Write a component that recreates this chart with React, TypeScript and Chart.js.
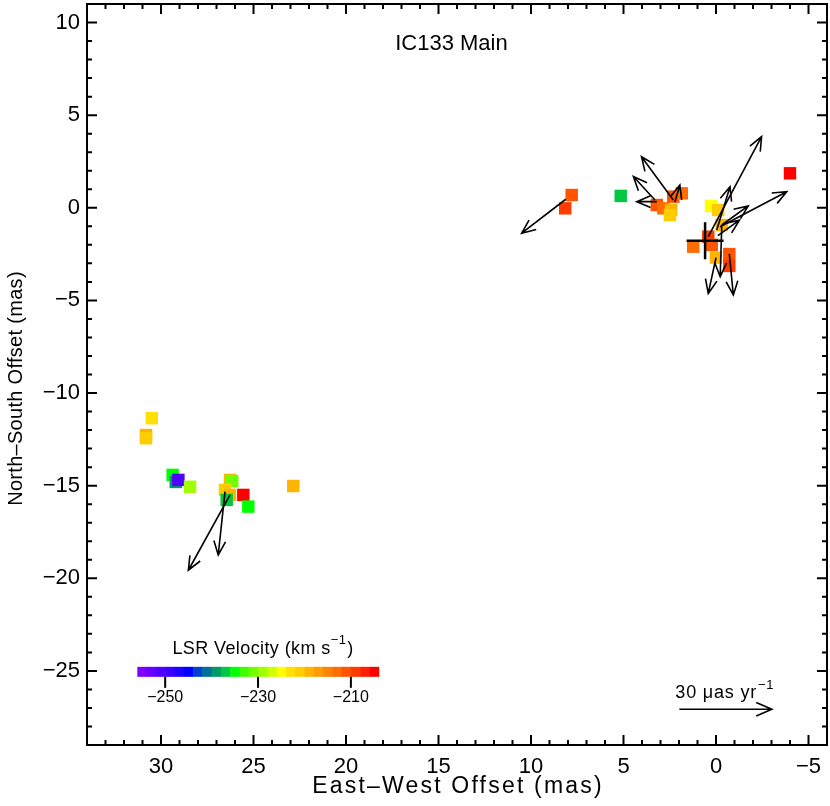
import React, { useEffect, useRef } from "react";
import { Chart, registerables } from "chart.js";
Chart.register(...registerables);

// ---- Data ----
const spotX = [7.8, 8.15, 5.15, 2.31, 1.85, 3.2, 2.85, 2.43, 2.49, 0.27, -0.12, -0.31, 0.42, 0.23, 1.23, 0.0, -0.72, -0.72, -4.0,
  30.5, 30.81, 30.81, 29.37, 29.2, 29.06, 28.43, 26.27, 26.15, 26.54, 26.27, 26.45, 25.55, 25.28, 22.85];
const spotY = [0.69, -0.03, 0.64, 0.6, 0.78, 0.15, -0.03, -0.12, -0.39, 0.1, -0.12, -0.93, -1.56, -2.0, -2.1, -2.69, -2.5, -3.14, 1.86,
  -11.36, -12.27, -12.44, -14.42, -14.8, -14.69, -15.06, -14.69, -14.75, -15.23, -15.5, -15.77, -15.5, -16.13, -15.02];
const spotV = [-211, -209, -237, -211, -213, -211, -213, -219, -221, -225, -221, -219, -209, -211, -213, -219, -211, -209, -205,
  -223, -219, -221, -235, -239, -251, -229, -219, -231, -221, -219, -237, -205, -235, -219];

// proper motions: start position (mas) and velocity (μas/yr, +x = east)
const pmX = [8.12, 2.31, 3.3, 3.2, 2.22, 0.42, -0.04, -0.22, -0.31, -0.1, 0.0, -0.72, -0.31, 26.27, 26.54];
const pmY = [0.46, 0.42, 0.42, 0.33, 0.31, -1.56, -1.2, -1.02, -0.93, -1.5, -2.69, -2.49, -1.02, -15.5, -15.32];
const pmVx = [14.3, 10.3, 7.0, 6.5, -1.6, -17.3, -4.3, -21.6, -8.6, -7.0, 2.5, -1.3, 0.5, 13.5, 2.2];
const pmVy = [-11.0, 14.0, 7.6, 0.0, 5.5, 32.4, 14.0, 11.3, 6.2, 5.0, -11.6, -13.3, -16.2, -24.4, -20.5];
const masPerMuas = 5 / 30;

const crossX = 0.59;
const crossY = -1.78;
const crossErr = 1.0;

const xTicks = [30, 25, 20, 15, 10, 5, 0, -5];
const yTicks = [10, 5, 0, -5, -10, -15, -20, -25];
const xMin = -6, xMax = 34, yMin = -29, yMax = 11;

const cbColors = ["#8000ff", "#6a00ff", "#5000ff", "#3800ff", "#2000ff", "#0000ff", "#0040d0", "#00709a", "#009a68", "#00c840",
  "#00ff00", "#40ff00", "#70ff00", "#a0ff00", "#d0ff00", "#ffff00", "#ffe000", "#ffcc00", "#ffb400", "#ff9c00",
  "#ff8400", "#ff6c00", "#ff5400", "#ff3c00", "#ff2000", "#ff0000"];
const cbMin = -256, cbMax = -204;
const cbTicks = [-250, -230, -210];
const cbX0 = 31.28, cbX1 = 18.23, cbYc = -25.05, cbHalf = 0.27;

const refSpeed = 30;
const refX = 1.98, refY = -27.07;
const titleText = "IC133 Main";

const FONT = "'Liberation Sans', Arial, sans-serif";
const minus = (v: number) => (v < 0 ? "\u2212" + Math.abs(v) : String(v));

function velColor(v: number) {
  let i = Math.floor(((v - cbMin) / (cbMax - cbMin)) * cbColors.length);
  i = Math.max(0, Math.min(cbColors.length - 1, i));
  return cbColors[i];
}

function drawArrow(ctx: CanvasRenderingContext2D, x0: number, y0: number, x1: number, y1: number, head: number) {
  const ang = Math.atan2(y1 - y0, x1 - x0);
  const a = (23 * Math.PI) / 180;
  ctx.beginPath();
  ctx.moveTo(x0, y0);
  ctx.lineTo(x1, y1);
  ctx.moveTo(x1 - head * Math.cos(ang - a), y1 - head * Math.sin(ang - a));
  ctx.lineTo(x1, y1);
  ctx.lineTo(x1 - head * Math.cos(ang + a), y1 - head * Math.sin(ang + a));
  ctx.stroke();
}

const overlay = {
  id: "overlay",
  afterDatasetsDraw(chart: any) {
    const ctx: any = chart.ctx;
    const xs = chart.scales.x, ys = chart.scales.y;
    const px = (v: number) => xs.getPixelForValue(v);
    const py = (v: number) => ys.getPixelForValue(v);
    const ca = chart.chartArea;
    ctx.save();
    ctx.strokeStyle = "#000";
    ctx.fillStyle = "#000";

    // proper motion arrows
    ctx.lineWidth = 1.6;
    for (let i = 0; i < pmX.length; i++) {
      const x1 = pmX[i] + pmVx[i] * masPerMuas;
      const y1 = pmY[i] + pmVy[i] * masPerMuas;
      drawArrow(ctx, px(pmX[i]), py(pmY[i]), px(x1), py(y1), 15);
    }

    // reference cross
    ctx.lineWidth = 2.5;
    ctx.beginPath();
    ctx.moveTo(px(crossX - crossErr), py(crossY));
    ctx.lineTo(px(crossX + crossErr), py(crossY));
    ctx.moveTo(px(crossX), py(crossY - crossErr));
    ctx.lineTo(px(crossX), py(crossY + crossErr));
    ctx.stroke();

    // frame
    ctx.lineWidth = 2;
    ctx.strokeRect(ca.left, ca.top, ca.right - ca.left, ca.bottom - ca.top);
    for (let v = Math.ceil(xMin); v <= Math.floor(xMax); v++) {
      if (v === xMin || v === xMax) continue;
      const L = v % 5 === 0 ? 10 : 5;
      const x = px(v);
      ctx.beginPath();
      ctx.moveTo(x, ca.bottom); ctx.lineTo(x, ca.bottom - L);
      ctx.moveTo(x, ca.top); ctx.lineTo(x, ca.top + L);
      ctx.stroke();
    }
    for (let v = Math.ceil(yMin); v <= Math.floor(yMax); v++) {
      if (v === yMin || v === yMax) continue;
      const L = v % 5 === 0 ? 10 : 5;
      const y = py(v);
      ctx.beginPath();
      ctx.moveTo(ca.left, y); ctx.lineTo(ca.left + L, y);
      ctx.moveTo(ca.right, y); ctx.lineTo(ca.right - L, y);
      ctx.stroke();
    }

    // title
    ctx.font = `22px ${FONT}`;
    ctx.textAlign = "center";
    ctx.textBaseline = "middle";
    ctx.fillText(titleText, px(14.3), py(8.84));

    // axis titles
    ctx.font = `23px ${FONT}`;
    ctx.letterSpacing = "2.2px";
    ctx.fillText("East\u2013West Offset (mas)", (ca.left + ca.right) / 2 + 1, 787);
    ctx.letterSpacing = "0.3px";
    ctx.font = `20px ${FONT}`;
    ctx.save();
    ctx.translate(16, (ca.top + ca.bottom) / 2 + 14);
    ctx.rotate(-Math.PI / 2);
    ctx.fillText("North\u2013South Offset (mas)", 0, 0);
    ctx.restore();
    ctx.letterSpacing = "0px";

    // colour bar
    const n = cbColors.length;
    const bx0 = px(cbX0), bx1 = px(cbX1);
    const by0 = py(cbYc + cbHalf), by1 = py(cbYc - cbHalf);
    for (let i = 0; i < n; i++) {
      const a = bx0 + ((bx1 - bx0) * i) / n;
      const b = bx0 + ((bx1 - bx0) * (i + 1)) / n;
      ctx.fillStyle = cbColors[i];
      ctx.fillRect(a, by0, b - a + 0.5, by1 - by0);
    }
    ctx.fillStyle = "#000";
    ctx.lineWidth = 2;
    ctx.font = `16px ${FONT}`;
    ctx.textAlign = "center";
    ctx.textBaseline = "middle";
    for (const t of cbTicks) {
      const x = bx0 + ((t - cbMin) / (cbMax - cbMin)) * (bx1 - bx0);
      ctx.beginPath();
      ctx.moveTo(x, by1); ctx.lineTo(x, by1 + 11);
      ctx.stroke();
      ctx.fillText(minus(t), x, by1 + 21);
    }
    {
      const main = "LSR Velocity (km s";
      const sup = "\u22121";
      const tail = ")";
      ctx.letterSpacing = "0.4px";
      ctx.font = `18px ${FONT}`;
      const w1 = ctx.measureText(main).width;
      const w3 = ctx.measureText(tail).width;
      ctx.font = `13px ${FONT}`;
      const w2 = ctx.measureText(sup).width;
      const total = w1 + w2 + w3 + 1;
      let x = (bx0 + bx1) / 2 + 5 - total / 2;
      const y = by0 - 18;
      ctx.textAlign = "left";
      ctx.font = `18px ${FONT}`;
      ctx.fillText(main, x, y);
      x += w1;
      ctx.font = `13px ${FONT}`;
      ctx.fillText(sup, x, y - 8);
      x += w2 + 1;
      ctx.font = `18px ${FONT}`;
      ctx.fillText(tail, x, y);
      ctx.letterSpacing = "0px";
    }

    // reference arrow
    ctx.lineWidth = 1.6;
    const rx0 = px(refX), ry = py(refY);
    const rx1 = px(refX - refSpeed * masPerMuas);
    drawArrow(ctx, rx0, ry, rx1, ry, 17);
    {
      const main = `${refSpeed} \u03bcas yr`;
      ctx.letterSpacing = "0.8px";
      ctx.font = `18px ${FONT}`;
      ctx.textAlign = "left";
      const w1 = ctx.measureText(main).width;
      const x = rx0 - 4;
      const y = ry - 16;
      ctx.fillText(main, x, y);
      ctx.font = `13px ${FONT}`;
      ctx.fillText("\u22121", x + w1 + 1, y - 8);
      ctx.letterSpacing = "0px";
    }
    ctx.restore();
  },
};

export default function App() {
  const ref = useRef<HTMLCanvasElement | null>(null);
  useEffect(() => {
    if (!ref.current) return;
    const data = spotX.map((x, i) => ({ x, y: spotY[i] }));
    const colors = spotV.map(velColor);
    const chart = new Chart(ref.current, {
      type: "scatter",
      data: {
        datasets: [
          {
            data,
            pointStyle: "rect",
            pointRadius: 8.8,
            pointHoverRadius: 8.8,
            pointBorderWidth: 0,
            borderWidth: 0,
            backgroundColor: colors,
            pointBackgroundColor: colors,
          } as any,
        ],
      },
      options: {
        responsive: false,
        animation: false,
        devicePixelRatio: 1,
        layout: { autoPadding: false, padding: { left: 0, right: 3, top: 4, bottom: 0 } },
        plugins: { legend: { display: false }, tooltip: { enabled: false }, title: { display: false } },
        events: [],
        scales: {
          x: {
            type: "linear",
            reverse: true,
            min: xMin,
            max: xMax,
            grid: { display: false, drawTicks: false },
            border: { display: false },
            afterBuildTicks: (s: any) => { s.ticks = xTicks.map((v) => ({ value: v })); },
            afterFit: (s: any) => { s.height = 61; s.paddingLeft = 0; s.paddingRight = 0; s.paddingTop = 0; s.paddingBottom = 0; },
            ticks: {
              autoSkip: false,
              maxRotation: 0,
              padding: 9,
              color: "#000",
              font: { family: FONT, size: 22 },
              callback: (v: any) => minus(Number(v)),
            },
          },
          y: {
            type: "linear",
            min: yMin,
            max: yMax,
            grid: { display: false, drawTicks: false },
            border: { display: false },
            afterBuildTicks: (s: any) => { s.ticks = yTicks.map((v) => ({ value: v })); },
            afterFit: (s: any) => { s.width = 87; s.paddingLeft = 0; s.paddingRight = 0; s.paddingTop = 0; s.paddingBottom = 0; },
            ticks: {
              autoSkip: false,
              padding: 7,
              color: "#000",
              font: { family: FONT, size: 22 },
              callback: (v: any) => minus(Number(v)),
            },
          },
        },
      },
      plugins: [overlay],
    });
    return () => chart.destroy();
  }, []);
  return (
    <div style={{ position: "absolute", left: 0, top: 0, width: 830, height: 806, background: "#fff" }}>
      <canvas ref={ref} width={830} height={806} style={{ width: 830, height: 806, display: "block" }} />
    </div>
  );
}
